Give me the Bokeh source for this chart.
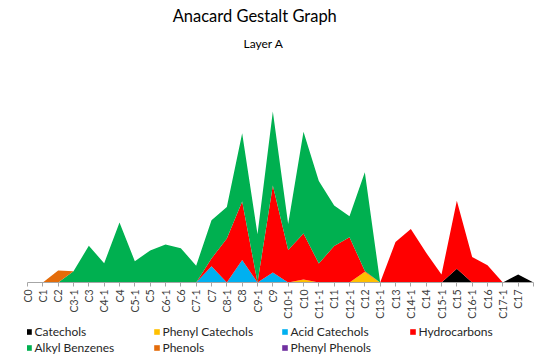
import math
from bokeh.plotting import figure
from bokeh.layouts import column
from bokeh.models import (ColumnDataSource, Range1d, FixedTicker, Legend,
                          LegendItem, Label)
from bokeh.embed import file_html
from bokeh.resources import INLINE

categories = ["C0", "C1", "C2", "C3-1", "C3", "C4-1", "C4", "C5-1", "C5",
              "C6-1", "C6", "C7-1", "C7", "C8-1", "C8", "C9-1", "C9",
              "C10-1", "C10", "C11-1", "C11", "C12-1", "C12", "C13-1",
              "C13", "C14-1", "C14", "C15-1", "C15", "C16-1", "C16",
              "C17-1", "C17", ""]

catechols = [0, 0, 0, 0, 0, 0, 0, 0, 0, 0, 0, 0, 0, 0, 0, 0, 0,
             0, 0, 0, 0, 0, 0, 0, 0, 0, 0, 0, 13.8, 0, 0, 0, 8, 0]
phenyl_catechols = [0, 0, 0, 0, 0, 0, 0, 0, 0, 0, 0, 0, 0, 0, 0, 0, 0,
                    0, 3, 0, 0, 0, 10.7, 0, 0, 0, 0, 0, 0, 0, 0, 0, 0, 0]
acid_catechols = [0, 0, 0, 0, 0, 0, 0, 0, 0, 0, 0, 0, 16.2, 0, 22.5, 0, 10,
                  0, 0, 0, 0, 0, 0, 0, 0, 0, 0, 0, 0, 0, 0, 0, 0, 0]
hydrocarbons = [0, 0, 0, 0, 0, 0, 0, 0, 0, 0, 0, 0, 7.8, 44, 58.5, 0, 87,
                32.5, 46, 19, 36.5, 45.3, 0.8, 0, 40.5, 53.5, 29.7, 8, 67.9,
                25.5, 17.2, 0, 0, 0]
alkyl_benzenes = [0, 0, 0, 11.3, 36.7, 19.3, 60, 21.3, 32, 38, 34.3, 16.8,
                  38.3, 31.5, 68.2, 48.3, 74, 26, 101.7, 82.5, 40.5, 20.9,
                  98.8, 0, 0, 0, 0, 0, 0, 0, 0, 0, 0, 0]
phenols = [0, 0, 12, 0, 0, 0, 0, 0, 0, 0, 0, 0, 0, 0, 0, 0, 0,
           0, 0, 0, 0, 0, 0, 0, 0, 0, 0, 0, 0, 0, 0, 0, 0, 0]
phenyl_phenols = [0] * 34

series_names = ["Catechols", "Phenyl Catechols", "Acid Catechols",
                "Hydrocarbons", "Alkyl Benzenes", "Phenols", "Phenyl Phenols"]
series_keys = ["catechols", "phenyl_catechols", "acid_catechols",
               "hydrocarbons", "alkyl_benzenes", "phenols", "phenyl_phenols"]
colors = ["#000000", "#FFC000", "#00B0F0", "#FF0000", "#00B050",
          "#E46C0A", "#7030A0"]

source = ColumnDataSource(data=dict(
    x=list(range(len(categories))),
    catechols=catechols,
    phenyl_catechols=phenyl_catechols,
    acid_catechols=acid_catechols,
    hydrocarbons=hydrocarbons,
    alkyl_benzenes=alkyl_benzenes,
    phenols=phenols,
    phenyl_phenols=phenyl_phenols,
))

# ---- main chart -------------------------------------------------------
p = figure(width=554, height=322, output_backend="svg", toolbar_location=None,
           x_range=Range1d(0, len(categories) - 1), y_range=Range1d(0, 282),
           y_axis_type=None,
           min_border_left=27, min_border_right=21, min_border_top=0,
           min_border_bottom=40)
p.outline_line_color = None
p.xgrid.visible = False
p.background_fill_color = "white"
p.border_fill_color = "white"

p.varea_stack(stackers=series_keys, x="x", color=colors, source=source)

ax = p.xaxis[0]
ax.ticker = FixedTicker(ticks=list(range(len(categories))))
ax.major_label_overrides = {i: c for i, c in enumerate(categories)}
ax.major_label_orientation = math.pi / 2
ax.minor_tick_line_color = None
ax.major_tick_in = 0
ax.major_tick_out = 4
ax.axis_line_color = "#A6A6A6"
ax.major_tick_line_color = "#A6A6A6"
ax.major_label_text_font = "Lato"
ax.major_label_text_font_size = "10.5px"
ax.major_label_standoff = 3
ax.major_label_text_color = "#404040"

p.add_layout(Label(x=14.82, y=266.5, text="Anacard Gestalt Graph",
                   text_align="center", text_baseline="middle",
                   text_font="Lato", text_font_size="16.5px",
                   text_color="#000000"))
p.add_layout(Label(x=15.39, y=238.7, text="Layer A",
                   text_align="center", text_baseline="middle",
                   text_font="Lato", text_font_size="12px",
                   text_color="#000000"))

# ---- legend strip -----------------------------------------------------
q = figure(width=554, height=37, output_backend="svg", toolbar_location=None,
           x_range=Range1d(100, 101), y_range=Range1d(100, 101),
           x_axis_type=None, y_axis_type=None,
           min_border_left=0, min_border_right=0, min_border_top=0,
           min_border_bottom=0)
q.outline_line_color = None
q.xgrid.visible = False
q.ygrid.visible = False
q.background_fill_color = "white"
q.border_fill_color = "white"

legend_renderers = q.varea_stack(stackers=series_keys, x="x", color=colors,
                                 source=source)

legend = Legend(items=[LegendItem(label=n, renderers=[r])
                       for n, r in zip(series_names, legend_renderers)],
                location=(-2.5, 4), orientation="horizontal", ncols=4,
                glyph_width=7, glyph_height=7, label_standoff=3,
                label_width=117, label_height=12, spacing=1, padding=0,
                margin=0, border_line_color=None, background_fill_alpha=0,
                label_text_font="Lato", label_text_font_size="12px",
                label_text_color="#262626")
q.add_layout(legend, "center")

page = column(p, q, spacing=0)
open("out.html", "w").write(file_html(page, INLINE))
